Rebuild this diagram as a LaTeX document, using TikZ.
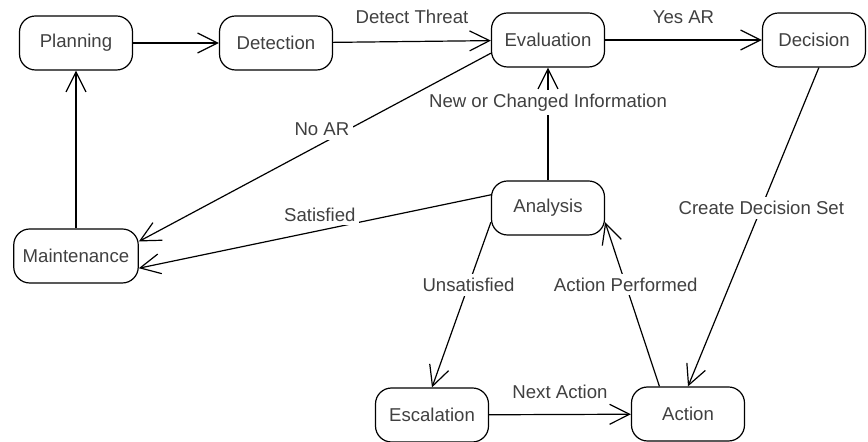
\documentclass[tikz,border=0pt]{standalone}
\usepackage{fontspec}
\setmainfont{Liberation Sans}
\usetikzlibrary{arrows.meta}

\begin{document}
\begin{tikzpicture}[x=0.5pt,y=-0.5pt,line width=0.6pt,
    state/.style={draw, rounded corners=8pt, minimum width=56.5pt, minimum height=27pt,
      inner xsep=4.5pt, text=black!75, font=\fontsize{9.3}{11}\selectfont},
    lbl/.style={inner sep=2pt, text=black!75, font=\fontsize{9.3}{11}\selectfont},
    >={Straight Barb[length=10pt,width=10pt]}]
    \useasboundingbox (0,0) rectangle (868,442);
    \node[state] (plan) at (76,43) {Planning};
    \node[state] (detect) at (276,43) {Detection};
    \node[state] (eval) at (548,40) {Evaluation};
    \node[state, minimum width=51.5pt] (decide) at (814,40) {Decision};
    \node[state] (maint) at (76,256) {Maintenance};
    \node[state] (analysis) at (548,208) {Analysis};
    \node[state] (escal) at (432,415) {Escalation};
    \node[state] (action) at (688,414) {Action};
    \draw[->] (plan) to (detect);
    \draw[->] (detect) to node[lbl, above=6.5pt] {Detect Threat} (eval);
    \draw[->] (eval) to node[lbl, above=6pt] {Yes AR} (decide);
    \draw[->] (eval.193) to node[lbl, fill=white, pos=0.48, yshift=7pt] {No AR} (maint.13);
    \draw[->] (maint) to (plan);
    \draw[->] (analysis) to node[lbl, fill=white, pos=0.69] {New or Changed Information} (eval);
    \draw[->] (analysis.167) to node[lbl, fill=white, pos=0.486, yshift=8pt] {Satisfied} (maint.349);
    \draw[->] (analysis.194) to node[lbl, fill=white, pos=0.38] {Unsatisfied} (escal.north);
    \draw[->] (action.136) to node[lbl, fill=white, pos=0.62] {Action Performed} (analysis.346);
    \draw[->] (decide.280) to node[lbl, fill=white, pos=0.44] {Create Decision Set} (action.north);
    \draw[->] (escal) to node[lbl, above=5.5pt] {Next Action} (action);
  \end{tikzpicture}
\end{document}
